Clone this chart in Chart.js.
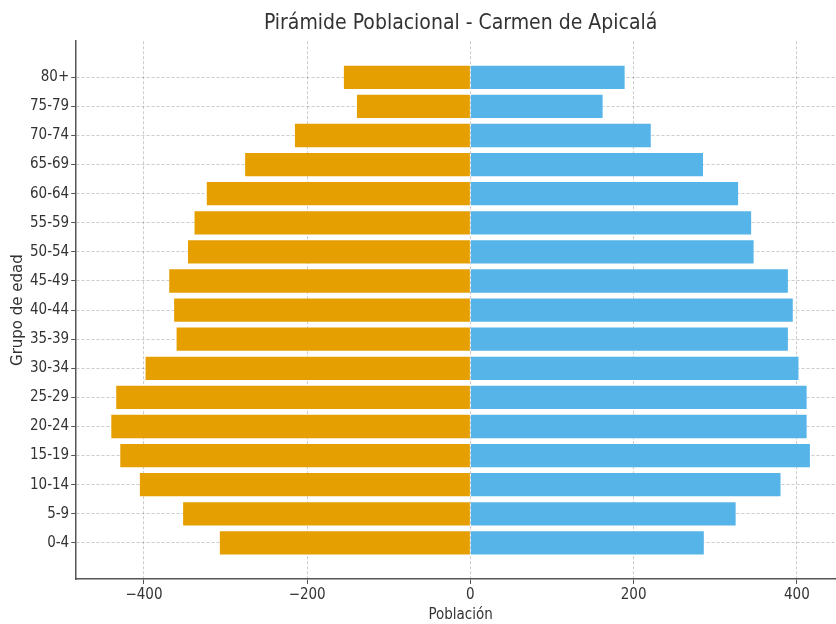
<!DOCTYPE html>
<html>
<head>
<meta charset="utf-8">
<script src="https://cdn.jsdelivr.net/npm/chart.js@4"></script>
<style>
html,body{margin:0;padding:0;background:#fff;overflow:hidden;}
#wrap{width:922px;height:624px;}
</style>
</head>
<body>
<div id="wrap"><canvas id="c" width="922" height="624"></canvas></div>
<script>
const ageGroups = ['0-4','5-9','10-14','15-19','20-24','25-29','30-34','35-39','40-44','45-49','50-54','55-59','60-64','65-69','70-74','75-79','80+'];
const leftValues = [-307,-352,-405,-429,-440,-434,-398,-360,-363,-369,-346,-338,-323,-276,-215,-139,-155];
const rightValues = [286,325,380,416,412,412,402,389,395,389,347,344,328,285,221,162,189];
const xTicks = [-400,-200,0,200,400];

const condensed = "'DejaVu Sans Condensed','Liberation Sans Narrow','DejaVu Sans',sans-serif";
const gridCol = 'rgba(0,0,0,0.2)';

new Chart(document.getElementById('c'), {
  type: 'bar',
  data: {
    datasets: [
      { label: 'left', data: leftValues.map((v,i)=>({x:v,y:i})), backgroundColor: '#E69F00', borderWidth: 0 },
      { label: 'right', data: rightValues.map((v,i)=>({x:v,y:i})), backgroundColor: '#56B4E9', borderWidth: 0 }
    ]
  },
  options: {
    indexAxis: 'y',
    responsive: false,
    animation: false,
    devicePixelRatio: 1,
    layout: { padding: { left: 9, right: 77, top: 4, bottom: 0 } },
    datasets: { bar: { barPercentage: 0.8, categoryPercentage: 1 } },
    plugins: {
      legend: { display: false },
      tooltip: { enabled: false },
      title: {
        display: true,
        fullSize: false,
        text: 'Pirámide Poblacional - Carmen de Apicalá',
        color: '#333',
        font: { family: condensed, size: 21, weight: 'normal' },
        padding: { top: 7, bottom: 5 }
      }
    },
    scales: {
      x: {
        type: 'linear',
        stacked: true,
        min: -483,
        max: 459,
        z: 1,
        border: { display: true, color: '#555', width: 1.5, dash: [3,2] },
        grid: { color: gridCol, lineWidth: 1, drawTicks: true, tickLength: 5, tickColor: '#555', tickBorderDash: [] },
        afterBuildTicks: (s) => { s.ticks = xTicks.map(v => ({ value: v })); },
        ticks: {
          includeBounds: false,
          color: '#333',
          font: { family: condensed, size: 15 },
          padding: 2,
          callback: (v) => v < 0 ? '\u2212' + Math.abs(v) : String(v)
        },
        title: { display: true, text: 'Población', color: '#333', font: { family: condensed, size: 15 }, padding: { top: 0, bottom: 0 } }
      },
      y: {
        type: 'linear',
        stacked: true,
        offset: false,
        min: -1.24,
        max: 17.24,
        z: 1,
        border: { display: true, color: '#555', width: 1.5, dash: [3,2] },
        grid: {
          offset: false,
          color: (ctx) => (ctx.tick && ctx.tick.value >= 0 && ctx.tick.value < ageGroups.length) ? gridCol : 'rgba(0,0,0,0)',
          lineWidth: 1, drawTicks: true, tickLength: 5,
          tickColor: (ctx) => (ctx.tick && ctx.tick.value >= 0 && ctx.tick.value < ageGroups.length) ? '#555' : 'rgba(0,0,0,0)',
          tickBorderDash: []
        },
        afterBuildTicks: (s) => { s.ticks = ageGroups.map((_, i) => ({ value: i })); },
        ticks: {
          color: '#333',
          font: { family: condensed, size: 15 },
          padding: 2,
          autoSkip: false,
          callback: (v) => ageGroups[v] !== undefined ? ageGroups[v] : ''
        },
        title: { display: true, text: 'Grupo de edad', color: '#333', font: { family: "'DejaVu Sans',sans-serif", size: 15 }, padding: { top: 0, bottom: 1 } }
      }
    }
  }
});
</script>
</body>
</html>
